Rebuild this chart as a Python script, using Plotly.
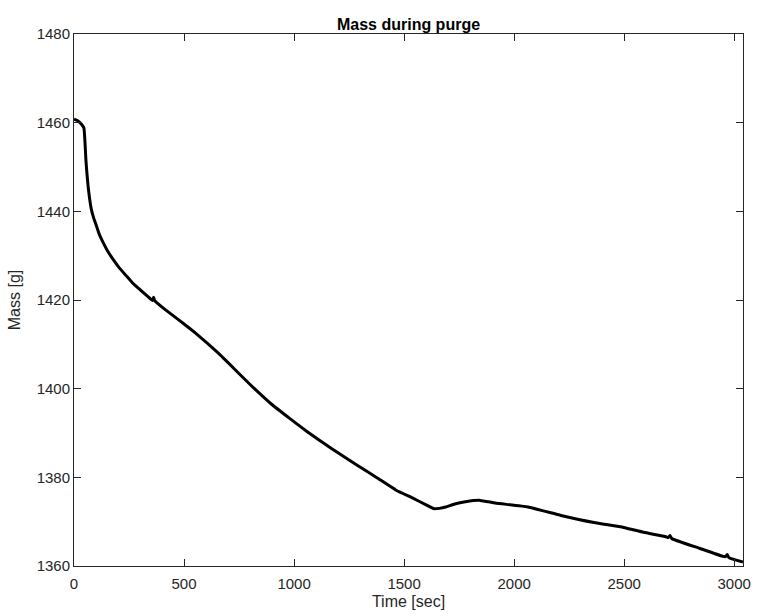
import plotly.graph_objects as go

time_sec = [0, 15, 35, 45, 50, 54, 58, 64, 70, 79, 90, 102, 115, 132, 150, 177, 205, 237, 265, 296, 340, 356, 362,
            366, 372, 431, 500, 551, 656, 746, 820, 895, 980, 1060, 1170, 1285, 1380, 1464, 1540, 1600, 1637, 1660,
            1689, 1730, 1779, 1846, 1914, 2063, 2213, 2363, 2498, 2588, 2690, 2700, 2708, 2716,
            2842, 2947, 2960, 2968, 2976, 3040]
mass_g = [1460.8, 1460.5, 1459.6, 1458.8, 1455.5, 1451.7, 1449.0, 1445.7, 1443.2, 1440.4, 1438.4, 1436.7, 1434.8,
          1433.0, 1431.3, 1429.2, 1427.3, 1425.5, 1423.9, 1422.5, 1420.6, 1419.9, 1420.6, 1419.9, 1419.6, 1417.2,
          1414.6, 1412.6, 1408.0, 1403.6, 1400.0, 1396.6, 1393.3, 1390.3, 1386.5, 1382.8, 1379.8, 1377.1, 1375.3,
          1373.8, 1372.9, 1373.0, 1373.3, 1374.0, 1374.5, 1374.8, 1374.2, 1373.3, 1371.4, 1369.8, 1368.7,
          1367.6, 1366.6, 1366.4, 1366.9, 1366.2, 1364.0, 1362.2, 1362.1, 1362.6, 1361.9, 1360.9]

x_ticks = [0, 500, 1000, 1500, 2000, 2500, 3000]
y_ticks = [1360, 1380, 1400, 1420, 1440, 1460, 1480]

axis_color = "#262626"
font_family = "Liberation Sans, Arial, sans-serif"

fig = go.Figure()
fig.add_trace(go.Scatter(x=time_sec, y=mass_g, mode="lines",
                         line=dict(color="black", width=3, shape="spline", smoothing=0.4),
                         showlegend=False))

common = dict(showgrid=False, zeroline=False, showline=True, linecolor=axis_color, linewidth=1,
              mirror="ticks", ticks="inside", ticklen=7, tickcolor=axis_color, tickwidth=1,
              tickfont=dict(family=font_family, size=15, color=axis_color))

fig.update_layout(
    width=758, height=614,
    margin=dict(l=74, r=7, t=34, b=46),
    paper_bgcolor="white", plot_bgcolor="white",
    title=dict(text="<b>Mass during purge</b>", x=0.5, xanchor="center", xref="paper",
               y=1, yref="paper", yanchor="bottom", pad=dict(b=4),
               font=dict(family=font_family, size=16, color="black")),
    xaxis=dict(range=[0, 3040], tickvals=x_ticks, ticklabelstandoff=4,
               title=dict(text="Time [sec]", standoff=4,
                          font=dict(family=font_family, size=16, color=axis_color)),
               **common),
    yaxis=dict(range=[1360, 1480], tickvals=y_ticks,
               title=dict(text="Mass [g]", standoff=12,
                          font=dict(family=font_family, size=16, color=axis_color)),
               **common),
)

fig.write_html("out.html")
